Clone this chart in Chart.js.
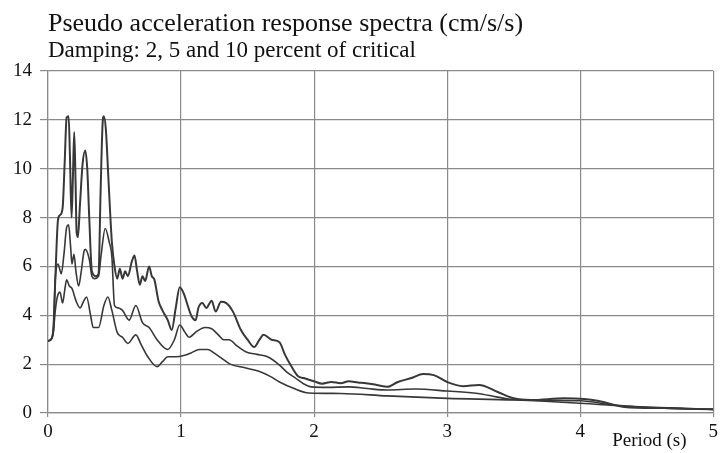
<!DOCTYPE html>
<html>
<head>
<meta charset="utf-8">
<script src="https://cdn.jsdelivr.net/npm/chart.js@4.4.0/dist/chart.umd.min.js"></script>
<style>
  html, body { margin: 0; padding: 0; background: #fff; }
  #wrap { width: 722px; height: 453px; position: relative; }
</style>
</head>
<body>
<div id="wrap"><canvas id="spectraChart"></canvas></div>
<script>
// Period (s) and pseudo acceleration (cm/s/s)
const period2 = [0, 0.02, 0.04, 0.055, 0.075, 0.09, 0.11, 0.125, 0.14, 0.155, 0.165, 0.177, 0.187, 0.197, 0.207, 0.215, 0.225, 0.24, 0.26, 0.28, 0.295, 0.31, 0.33, 0.36, 0.38, 0.395, 0.41, 0.42, 0.435, 0.455, 0.48, 0.5, 0.52, 0.54, 0.56, 0.58, 0.6, 0.63, 0.65, 0.67, 0.69, 0.71, 0.73, 0.76, 0.78, 0.8, 0.83, 0.86, 0.9, 0.93, 0.96, 0.99, 1.02, 1.05, 1.08, 1.11, 1.13, 1.16, 1.19, 1.23, 1.26, 1.3, 1.34, 1.39, 1.45, 1.5, 1.55, 1.59, 1.62, 1.68, 1.74, 1.78, 1.83, 1.88, 1.92, 2.0, 2.06, 2.13, 2.2, 2.26, 2.33, 2.39, 2.47, 2.55, 2.63, 2.73, 2.82, 2.9, 3.0, 3.12, 3.24, 3.38, 3.5, 3.63, 3.88, 4.03, 4.13, 4.33, 4.63, 5.0];
const accel2 = [2.95, 3.0, 3.4, 5.5, 7.9, 8.1, 8.4, 10.2, 12.1, 12.15, 10.5, 8.0, 9.6, 11.5, 9.5, 7.4, 7.2, 8.5, 10.2, 10.75, 10.0, 8.0, 5.8, 5.6, 5.7, 9.0, 11.8, 12.15, 11.6, 9.5, 7.0, 6.0, 5.5, 5.9, 5.5, 5.8, 5.6, 6.2, 6.45, 5.8, 5.25, 5.6, 5.4, 6.0, 5.6, 5.45, 4.6, 4.2, 3.8, 3.4, 4.3, 5.15, 4.9, 4.4, 3.95, 3.8, 4.3, 4.5, 4.3, 4.6, 4.15, 4.55, 4.5, 4.15, 3.4, 3.0, 2.7, 3.0, 3.2, 3.0, 2.9, 2.4, 1.9, 1.5, 1.43, 1.3, 1.2, 1.27, 1.22, 1.3, 1.25, 1.22, 1.15, 1.07, 1.27, 1.43, 1.6, 1.55, 1.27, 1.1, 1.15, 0.86, 0.6, 0.53, 0.6, 0.57, 0.5, 0.25, 0.2, 0.15];

const period5 = [0, 0.02, 0.04, 0.055, 0.075, 0.1, 0.12, 0.14, 0.155, 0.17, 0.18, 0.195, 0.21, 0.23, 0.25, 0.27, 0.28, 0.31, 0.33, 0.35, 0.38, 0.4, 0.43, 0.46, 0.48, 0.5, 0.53, 0.56, 0.61, 0.66, 0.71, 0.76, 0.82, 0.9, 0.95, 0.99, 1.03, 1.06, 1.12, 1.18, 1.23, 1.28, 1.32, 1.36, 1.42, 1.49, 1.57, 1.65, 1.74, 1.8, 1.86, 1.92, 1.98, 2.1, 2.26, 2.4, 2.55, 2.76, 3.0, 3.23, 3.38, 3.5, 3.75, 4.0, 4.25, 4.63, 5.0];
const accel5 = [2.95, 3.0, 3.4, 5.5, 6.1, 5.7, 6.5, 7.6, 7.7, 6.8, 6.1, 6.5, 5.8, 5.2, 5.8, 6.6, 6.7, 6.3, 5.6, 5.5, 5.6, 6.5, 7.55, 7.0, 6.4, 4.4, 4.3, 4.2, 3.8, 4.4, 3.7, 3.5, 3.0, 2.6, 3.0, 3.6, 3.3, 3.1, 3.35, 3.5, 3.45, 3.2, 3.0, 3.0, 2.75, 2.5, 2.4, 2.3, 1.96, 1.65, 1.43, 1.2, 1.07, 1.05, 1.07, 1.0, 0.94, 0.98, 0.9, 0.8, 0.65, 0.55, 0.52, 0.5, 0.33, 0.2, 0.15];

const period10 = [0, 0.02, 0.04, 0.055, 0.07, 0.09, 0.11, 0.125, 0.14, 0.16, 0.18, 0.21, 0.24, 0.27, 0.29, 0.32, 0.34, 0.38, 0.42, 0.45, 0.48, 0.52, 0.56, 0.6, 0.66, 0.7, 0.75, 0.82, 0.86, 0.9, 0.96, 1.02, 1.07, 1.14, 1.2, 1.25, 1.29, 1.37, 1.48, 1.59, 1.67, 1.74, 1.85, 1.96, 2.2, 2.55, 3.0, 3.5, 4.0, 4.37, 5.0];
const accel10 = [2.95, 3.0, 3.3, 4.2, 4.75, 4.95, 4.5, 5.0, 5.45, 5.2, 5.1, 4.6, 4.3, 4.6, 4.75, 4.0, 3.5, 3.5, 4.4, 4.75, 4.2, 3.3, 3.1, 2.85, 3.2, 2.8, 2.3, 1.9, 2.1, 2.3, 2.3, 2.35, 2.45, 2.6, 2.6, 2.45, 2.3, 2.0, 1.85, 1.7, 1.5, 1.27, 1.0, 0.82, 0.8, 0.7, 0.6, 0.53, 0.4, 0.27, 0.15];

const xTicks = [0, 1, 2, 3, 4, 5];
const yTicks = [0, 2, 4, 6, 8, 10, 12, 14];

const titleText = 'Pseudo acceleration response spectra (cm/s/s)';
const subtitleText = 'Damping: 2, 5 and 10 percent of critical';
const xAxisText = 'Period (s)';

const serif = "'Liberation Serif', 'DejaVu Serif', serif";

function toPoints(xs, ys) {
  return xs.map((x, i) => ({ x: x, y: ys[i] }));
}

// titles and the axis caption sit relative to the plot area, so draw them here
const textPlugin = {
  id: 'textPlugin',
  afterDraw(chart) {
    const ctx = chart.ctx;
    const area = chart.chartArea;
    const xs = chart.scales.x;
    ctx.save();
    ctx.fillStyle = '#111';
    ctx.textBaseline = 'alphabetic';
    ctx.textAlign = 'left';
    ctx.font = '26px ' + serif;
    ctx.fillText(titleText, area.left, 31);
    ctx.font = '23px ' + serif;
    ctx.fillText(subtitleText, area.left, 57);
    ctx.font = '19px ' + serif;
    ctx.textAlign = 'center';
    ctx.fillText(xAxisText, xs.getPixelForValue(4.52), 446);
    ctx.restore();
  }
};

const lineStyle = {
  borderColor: '#383838',
  pointRadius: 0,
  cubicInterpolationMode: 'monotone',
  fill: false
};

new Chart(document.getElementById('spectraChart'), {
  type: 'line',
  data: {
    datasets: [
      Object.assign({ label: '2 percent', data: toPoints(period2, accel2), borderWidth: 2 }, lineStyle),
      Object.assign({ label: '5 percent', data: toPoints(period5, accel5), borderWidth: 1.6 }, lineStyle),
      Object.assign({ label: '10 percent', data: toPoints(period10, accel10), borderWidth: 1.6 }, lineStyle)
    ]
  },
  options: {
    responsive: true,
    maintainAspectRatio: false,
    animation: false,
    layout: { padding: { top: 71, right: 6, left: 0, bottom: 0 } },
    plugins: {
      legend: { display: false },
      tooltip: { enabled: false }
    },
    scales: {
      x: {
        type: 'linear',
        min: 0,
        max: 5,
        afterBuildTicks: axis => { axis.ticks = xTicks.map(v => ({ value: v })); },
        afterFit: axis => { axis.height = 40; },
        ticks: {
          color: '#111',
          padding: 4,
          maxRotation: 0,
          font: { family: serif, size: 19 }
        },
        grid: { color: '#8a8a8a', lineWidth: 1.2, tickLength: 4 },
        border: { color: '#8a8a8a', width: 1.2 }
      },
      y: {
        min: 0,
        max: 14,
        afterBuildTicks: axis => { axis.ticks = yTicks.map(v => ({ value: v })); },
        afterFit: axis => { axis.width = 48; },
        ticks: {
          color: '#111',
          padding: 8,
          font: { family: serif, size: 19 }
        },
        grid: { color: '#8a8a8a', lineWidth: 1.2, tickLength: 8 },
        border: { color: '#8a8a8a', width: 1.2 }
      }
    }
  },
  plugins: [textPlugin]
});
</script>
</body>
</html>
